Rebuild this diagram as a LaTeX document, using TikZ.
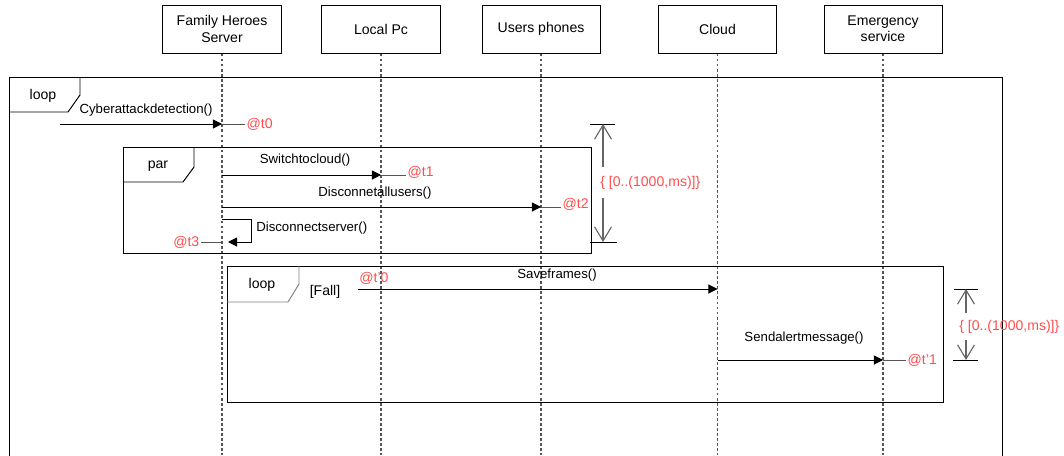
\documentclass[tikz,border=0pt]{standalone}
\usepackage{fontspec}
\setmainfont{Liberation Sans}
\usetikzlibrary{arrows.meta,positioning}

\definecolor{tred}{RGB}{255,77,77}
\definecolor{lgray}{RGB}{85,85,85}

\tikzset{
  actor/.style={draw, line width=0.7pt, minimum width=2.95cm, minimum height=1.2cm,
    align=center, font=\fontsize{10}{11.5}\selectfont},
  lifeline/.style={lgray, line width=0.9pt, dash pattern=on 2pt off 1.6pt},
  frame/.style={draw, line width=0.7pt},
  msg/.style={line width=0.7pt, -{Triangle[length=6.5pt,width=6.5pt]}},
  tail/.style={lgray, line width=0.7pt},
  msglabel/.style={inner sep=0pt, font=\fontsize{9.4}{11}\selectfont},
  framelabel/.style={inner sep=0pt, font=\fontsize{10}{12}\selectfont},
  tmark/.style={inner sep=1pt, text=tred, font=\fontsize{10}{12}\selectfont},
  tbar/.style={line width=0.7pt},
  tcon/.style={gray!80!black, line width=0.8pt, -{Straight Barb[length=10pt,width=12pt]}}
}

\begin{document}
\begin{tikzpicture}[x=0.025cm, y=-0.025cm]
    \useasboundingbox (0,0) rectangle (1064,455);

    % Actors
    \node[actor] (srv) at (222,29) {Family Heroes\\Server};
    \node[actor] (pc)  at (381,29) {Local Pc};
    \node[actor] (ph)  at (541,29) {Users phones};
    \node[actor] (cld) at (717.5,29) {Cloud};
    \node[actor] (emg) at (883,29) {Emergency\\service};

    % Lifelines
    \foreach \a in {srv,pc,ph,cld,emg}
        \draw[lifeline] (\a.south) -- (\a.south |- 0,455);

    % Outer loop frame
    \draw[frame] (9,460) -- (9,77) -- (1002,77) -- (1002,460);
    \draw[frame] (9,112) -- (68,112) -- (80,95) -- (80,77);
    \node[framelabel] (looplbl) at (43,96) {loop};

    % Par frame
    \draw[frame] (123,147) rectangle (591,253);
    \draw[frame] (123,182) -- (183,182) -- (194,167) -- (194,147);
    \node[framelabel] (parlbl) at (158,166) {par};

    % Inner loop frame
    \draw[frame] (227,266) rectangle (943,402);
    \draw[frame, gray] (227,302) -- (288,302) -- (299,284) -- (299,266);
    \node[framelabel] (loop2lbl) at (262,285) {loop};
    \node[framelabel] (guard) at (325,292) {[Fall]};

    % Cyberattack detection
    \coordinate (start) at (60,124);
    \draw[msg] (start) -- (srv |- 0,124);
    \node[msglabel] (cyb) at (146,110) {Cyberattackdetection()};
    \node[tmark, anchor=west] (t0) at (245,124) {@t0};
    \draw[tail] (srv |- 0,124) -- (t0.west);

    % Switch to cloud
    \draw[msg] (srv |- 0,175) -- (pc |- 0,175);
    \node[msglabel] (swc) at (305,160) {Switchtocloud()};
    \node[tmark, anchor=west] (t1) at (406,172) {@t1};
    \draw[tail] (pc |- 0,175) -- (t1.west |- 0,175);

    % Disconnect all users
    \draw[msg] (srv |- 0,207) -- (ph |- 0,207);
    \node[msglabel] (dau) at (375,193) {Disconnetallusers()};
    \node[tmark, anchor=west] (t2) at (561,204) {@t2};
    \draw[tail] (ph |- 0,207) -- (t2.west |- 0,207);

    % Disconnect server (self call)
    \draw[msg] (srv |- 0,219) -- (251,219) -- (251,242) -- (228,242);
    \node[msglabel, anchor=west] (dsv) at (256,228) {Disconnectserver()};
    \node[tmark, anchor=east] (t3) at (201,242) {@t3};
    \draw[tail] (t3.east) -- (srv |- 0,242);

    % Duration constraint of the par block
    \draw[tbar] (590,124) -- (615,124);
    \draw[tbar] (590,242) -- (617,242);
    \node[tmark, anchor=west, inner sep=0pt] (d1) at (600,183) {\{ [0..(1000,ms)]\}};
    \draw[tcon] (603,167) -- (603,124);
    \draw[tcon] (603,198) -- (603,242);

    % Save frames
    \draw[msg] (358,289) -- (cld |- 0,289);
    \node[msglabel] (svf) at (557,275) {Saveframes()};
    \node[tmark, inner sep=0pt] (tp0) at (374,278) {@t'0};

    % Send alert message
    \draw[msg] (cld |- 0,360) -- (emg |- 0,360);
    \node[msglabel] (sam) at (804,338) {Sendalertmessage()};
    \node[tmark, anchor=west] (tp1) at (906,360) {@t'1};
    \draw[tail] (emg |- 0,360) -- (tp1.west);

    % Duration constraint of the alert
    \draw[tbar] (954,289) -- (978,289);
    \draw[tbar] (953,360) -- (978,360);
    \node[tmark, anchor=west, inner sep=0pt] (d2) at (959,327) {\{ [0..(1000,ms)]\}};
    \draw[tcon] (966,313) -- (966,289);
    \draw[tcon] (966,340) -- (966,360);
\end{tikzpicture}
\end{document}
